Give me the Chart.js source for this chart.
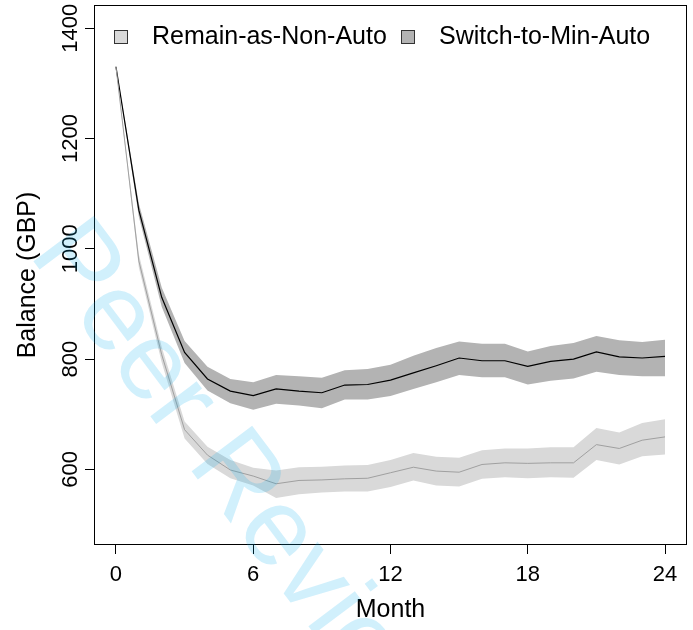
<!DOCTYPE html>
<html>
<head>
<meta charset="utf-8">
<script src="https://cdn.jsdelivr.net/npm/chart.js@4.4.1/dist/chart.umd.min.js"></script>
<style>
  html, body { margin: 0; padding: 0; background: #fff; }
</style>
</head>
<body>
<canvas id="balanceChart" width="693" height="630"></canvas>
<script>
// data
const months = [0, 1, 2, 3, 4, 5, 6, 7, 8, 9, 10, 11, 12, 13, 14, 15, 16, 17, 18, 19, 20, 21, 22, 23, 24];

const remainMean  = [1330, 978, 808, 672, 626, 599, 588, 574, 580, 581, 583, 584, 594, 604, 597, 595, 609, 612, 611, 612, 612, 645, 638, 653, 659];
const remainUpper = [1330, 990, 822, 687, 641, 617, 603, 598, 604, 605, 607, 608, 617, 630, 623, 621, 635, 638, 638, 640, 640, 675, 667, 684, 691];
const remainLower = [1330, 966, 794, 656, 610, 584, 571, 548, 555, 558, 560, 560, 568, 580, 571, 569, 583, 586, 584, 586, 585, 617, 609, 624, 627];

const switchMean  = [1330, 1070, 912, 812, 764, 742, 734, 746, 742, 739, 753, 754, 762, 775, 788, 802, 797, 797, 787, 796, 800, 813, 804, 802, 805];
const switchUpper = [1330, 1082, 930, 833, 786, 764, 758, 771, 769, 766, 780, 782, 790, 806, 820, 832, 828, 828, 814, 824, 829, 842, 834, 831, 835];
const switchLower = [1330, 1058, 895, 793, 743, 720, 708, 719, 716, 711, 727, 727, 733, 746, 758, 771, 767, 767, 754, 761, 765, 777, 771, 769, 769];

const xTicks = [0, 6, 12, 18, 24];
const yTicks = [600, 800, 1000, 1200, 1400];
const seriesNames = ['Remain-as-Non-Auto', 'Switch-to-Min-Auto'];

const FONT = "'Liberation Sans', Arial, sans-serif";
const lightFill = '#d9d9d9';
const darkFill = '#b3b3b3';

function pts(arr) {
  return months.map((m, i) => ({ x: m, y: arr[i] }));
}

// box, legend, rotated y labels and the watermark
const rStyle = {
  id: 'rStyle',
  afterDraw(chart) {
    const ctx = chart.ctx;
    const a = chart.chartArea;
    const ys = chart.scales.y;

    ctx.save();
    ctx.strokeStyle = '#000';
    ctx.lineWidth = 1;
    ctx.strokeRect(a.left + 0.5, a.top + 0.5, a.right - a.left - 1, a.bottom - a.top - 1);

    // y tick labels, read bottom to top
    ctx.fillStyle = '#000';
    ctx.font = '22px ' + FONT;
    ctx.textAlign = 'center';
    ctx.textBaseline = 'middle';
    yTicks.forEach(v => {
      const y = ys.getPixelForValue(v);
      ctx.save();
      ctx.translate(71, y);
      ctx.rotate(-Math.PI / 2);
      ctx.fillText(String(v), 0, 0);
      ctx.restore();
    });

    // legend
    ctx.font = '25px ' + FONT;
    ctx.textAlign = 'left';
    const legendX = [114, 401];
    const fills = [lightFill, darkFill];
    seriesNames.forEach((name, i) => {
      ctx.fillStyle = fills[i];
      ctx.fillRect(legendX[i], 30, 14, 14);
      ctx.strokeStyle = '#333';
      ctx.strokeRect(legendX[i] + 0.5, 30.5, 13, 13);
      ctx.fillStyle = '#000';
      ctx.fillText(name, legendX[i] + 38, 37);
    });

    // watermark
    ctx.translate(28, 254);
    ctx.rotate(53 * Math.PI / 180);
    ctx.font = '110px ' + FONT;
    ctx.fillStyle = 'rgba(0, 170, 240, 0.18)';
    ctx.textBaseline = 'alphabetic';
    ctx.fillText('Peer Review', 0, 0);
    ctx.restore();
  }
};

const ctx = document.getElementById('balanceChart').getContext('2d');

new Chart(ctx, {
  type: 'line',
  data: {
    datasets: [
      { label: 'remainLine', data: pts(remainMean), borderColor: '#a0a0a0', borderWidth: 1, pointRadius: 0, fill: false, order: 0 },
      { label: 'switchLine', data: pts(switchMean), borderColor: '#000000', borderWidth: 1.2, pointRadius: 0, fill: false, order: 0 },
      { label: 'switchUpper', data: pts(switchUpper), borderWidth: 0, pointRadius: 0, backgroundColor: darkFill, fill: '+1', order: 1 },
      { label: 'switchLower', data: pts(switchLower), borderWidth: 0, pointRadius: 0, fill: false, order: 1 },
      { label: 'remainUpper', data: pts(remainUpper), borderWidth: 0, pointRadius: 0, backgroundColor: lightFill, fill: '+1', order: 2 },
      { label: 'remainLower', data: pts(remainLower), borderWidth: 0, pointRadius: 0, fill: false, order: 2 }
    ]
  },
  options: {
    responsive: false,
    animation: false,
    layout: { padding: { top: 5, right: 6, left: 0, bottom: 0 } },
    plugins: {
      legend: { display: false },
      tooltip: { enabled: false }
    },
    scales: {
      x: {
        type: 'linear',
        min: -0.96,
        max: 24.96,
        afterBuildTicks: s => { s.ticks = xTicks.map(v => ({ value: v })); },
        afterFit: s => { s.height = 85; },
        grid: { drawOnChartArea: false, drawTicks: true, tickLength: 9, color: '#000' },
        border: { display: false },
        ticks: { color: '#000', font: { family: FONT, size: 22 }, padding: 8, maxRotation: 0 },
        title: { display: true, text: 'Month', color: '#000', font: { family: FONT, size: 25 }, padding: 5 }
      },
      y: {
        type: 'linear',
        min: 463,
        max: 1442,
        afterBuildTicks: s => { s.ticks = yTicks.map(v => ({ value: v })); },
        afterFit: s => { s.width = 94; },
        grid: { drawOnChartArea: false, drawTicks: true, tickLength: 9, color: '#000' },
        border: { display: false },
        ticks: { display: false },
        title: { display: true, text: 'Balance (GBP)', color: '#000', font: { family: FONT, size: 25 }, padding: 13 }
      }
    }
  },
  plugins: [rStyle]
});
</script>
</body>
</html>
